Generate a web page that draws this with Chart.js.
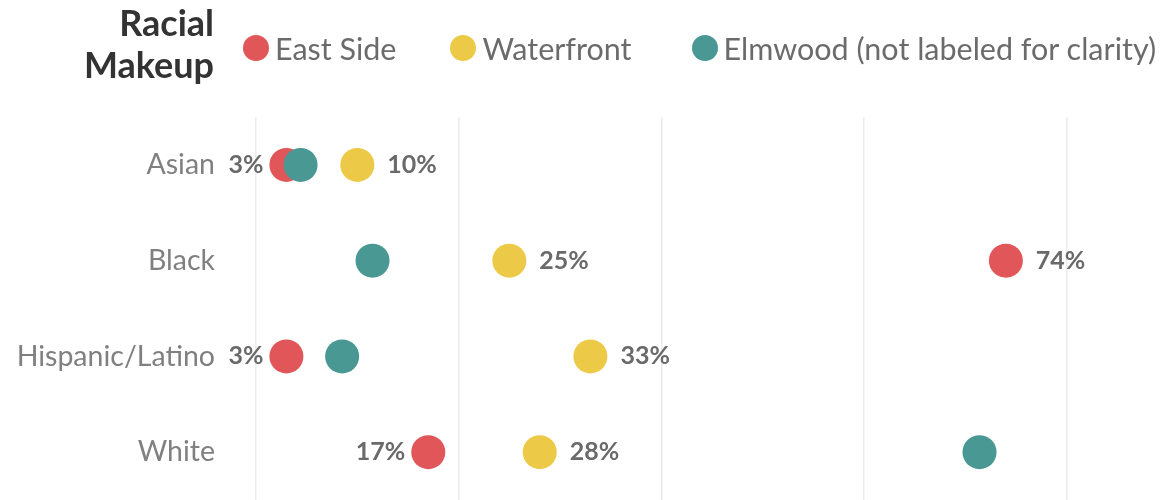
<!DOCTYPE html>
<html>
<head>
<meta charset="utf-8">
<script src="https://cdn.jsdelivr.net/npm/chart.js@4"></script>
<style>
  body { margin: 0; background: #fff; font-family: Lato, sans-serif; }
  #wrap { position: relative; width: 1175px; height: 500px; }
  #title { position: absolute; left: 0; top: 1px; width: 214px; text-align: right;
           font-weight: bold; font-size: 36px; line-height: 42px; color: #333; }
  #legend { position: absolute; left: 243px; top: 30px; display: flex; gap: 54px; }
  #legend .item:last-child { margin-left: 6px; }
  .item { display: flex; align-items: center; font-size: 30.5px; color: #6b6b6b; line-height: 36px; }
  .dot { width: 26px; height: 26px; border-radius: 50%; margin-right: 6px; }
  canvas { position: absolute; left: 0; top: 0; }
</style>
</head>
<body>
<div id="wrap">
  <canvas id="dotChart" width="1175" height="500"></canvas>
  <div id="title">Racial<br>Makeup</div>
  <div id="legend"></div>
</div>
<script>
const categories = ['Asian', 'Black', 'Hispanic/Latino', 'White'];
const eastSide = [3, 74, 3, 17];
const waterfront = [10, 25, 33, 28];
const elmwood = [4.4, 11.5, 8.5, 71.4];
const seriesNames = ['East Side', 'Waterfront', 'Elmwood (not labeled for clarity)'];
const seriesColors = ['#e15759', '#edc948', '#499894'];
const gridTicks = [0, 20, 40, 60, 80];

const series = [eastSide, waterfront, elmwood];

// legend in html so the title can sit to its left
const legend = document.getElementById('legend');
seriesNames.forEach((name, i) => {
  const item = document.createElement('div');
  item.className = 'item';
  item.innerHTML = '<span class="dot" style="background:' + seriesColors[i] + '"></span>' + name;
  legend.appendChild(item);
});

// value labels for East Side and Waterfront only
const pointLabels = {
  id: 'pointLabels',
  afterDatasetsDraw (chart) {
    const ctx = chart.ctx;
    ctx.save();
    ctx.font = 'bold 25px Lato';
    ctx.fillStyle = '#6a6a6a';
    ctx.textBaseline = 'middle';
    [0, 1].forEach(d => {
      chart.getDatasetMeta(d).data.forEach((pt, i) => {
        const v = series[d][i];
        let left = d === 0 && eastSide[i] < waterfront[i];
        if (left) {
          ctx.textAlign = 'right';
          ctx.fillText(v + '%', pt.x - 23, pt.y);
        } else {
          ctx.textAlign = 'left';
          ctx.fillText(v + '%', pt.x + 30, pt.y);
        }
      });
    });
    ctx.restore();
  }
};

new Chart(document.getElementById('dotChart'), {
  type: 'scatter',
  data: {
    labels: categories,
    datasets: series.map((vals, d) => ({
      label: seriesNames[d],
      data: categories.map((c, i) => ({ x: vals[i], y: c })),
      backgroundColor: seriesColors[d],
      borderWidth: 0,
      pointRadius: 17,
      pointHoverRadius: 17,
      order: 3 - d
    }))
  },
  options: {
    responsive: false,
    animation: false,
    events: [],
    layout: { autoPadding: false, padding: { top: 117, right: 7, bottom: 0, left: 0 } },
    plugins: { legend: { display: false }, tooltip: { enabled: false } },
    scales: {
      x: {
        type: 'linear',
        min: 0,
        max: 90,
        afterBuildTicks (scale) { scale.ticks = gridTicks.map(v => ({ value: v })); },
        afterFit (scale) { scale.height = 0; scale.paddingLeft = 0; scale.paddingRight = 0; },
        ticks: { display: false },
        grid: { color: '#ececec', lineWidth: 1.5, drawTicks: false },
        border: { display: false }
      },
      y: {
        type: 'category',
        labels: categories,
        offset: true,
        afterFit (scale) { scale.width = 256; scale.paddingTop = 0; scale.paddingBottom = 0; },
        ticks: { padding: 41, color: '#808080', font: { family: 'Lato', size: 28.5 } },
        grid: { display: false, drawTicks: false },
        border: { display: false }
      }
    }
  },
  plugins: [pointLabels]
});
</script>
</body>
</html>
